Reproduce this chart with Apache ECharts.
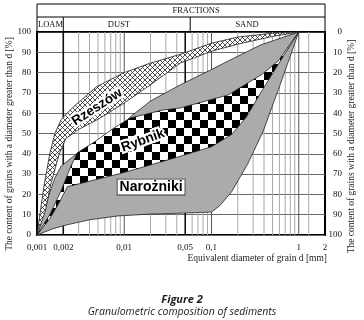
<!DOCTYPE html>
<html>
<head>
<meta charset="utf-8">
<script src="https://cdn.jsdelivr.net/npm/echarts@6/dist/echarts.min.js"></script>
<style>
  html, body { margin: 0; padding: 0; background: #fff; }
  #chart { width: 364px; height: 320px; }
</style>
</head>
<body>
<div id="chart"></div>
<script>
// equivalent diameter d [mm], content [%]
const rzeszowUpper = [[0.001,0],[0.0012,24],[0.0014,40],[0.0016,50],[0.0019,57],[0.0026,63],[0.0048,73],[0.01,80],[0.02,84.7],[0.044,89],[0.1,94.5],[0.2,97.5],[0.5,99.4],[1,100]];
const rzeszowLower = [[0.001,0],[0.00125,12],[0.00144,25],[0.0018,40],[0.00214,47.5],[0.003,52],[0.005,57],[0.01,65],[0.02,74],[0.044,84.7],[0.1,90.5],[0.2,94],[0.5,97.8],[1,100]];

const rybnikUpper = [[0.001,0],[0.0014,10],[0.0019,22],[0.0024,33],[0.0029,40.5],[0.0045,45.7],[0.0075,52.5],[0.0117,57.6],[0.028,61.6],[0.044,62.6],[0.155,69],[0.375,79],[0.58,85.7],[1,100]];
const rybnikLower = [[0.001,0],[0.0014,8],[0.0018,16],[0.00223,23.8],[0.0085,30],[0.02,34.5],[0.044,38.8],[0.1,43.5],[0.17,49.5],[0.25,58],[0.375,70.8],[0.58,84],[1,100]];

const narozUpper = [[0.001,0],[0.0013,17],[0.0016,28],[0.0019,34],[0.0029,40.3],[0.005,46],[0.008,51.5],[0.012,58.5],[0.02,66],[0.044,74],[0.1,81.5],[0.155,85.7],[0.37,93.7],[1,100]];
const narozLower = [[0.001,0],[0.0015,3],[0.0022,5],[0.004,7.5],[0.0085,9.4],[0.02,10.3],[0.041,10.7],[0.1,11.3],[0.125,14.5],[0.17,21.3],[0.26,35],[0.39,51],[0.6,73],[1,100]];

const bandLabels = [
  { text: 'Rzeszów', pos: [0.0049, 63], angle: 33 },
  { text: 'Rybnik', pos: [0.0164, 46.5], angle: 20 },
  { text: 'Narożniki', pos: [0.0203, 23.6], angle: 0, boxed: true }
];

const tickLabels = [0.001, 0.002, 0.01, 0.05, 0.1, 1, 2];
const gridThin = [0.003,0.004,0.005,0.006,0.007,0.008,0.009,0.02,0.03,0.04,0.06,0.07,0.08,0.09,0.2,0.3,0.4,0.5,0.6,0.7,0.8,0.9,1.3];
const gridMid = [0.01, 0.1, 1];
const gridBold = [0.002, 0.05];

const fractions = [['LOAM', 0.00143], ['DUST', 0.0087], ['SAND', 0.255]];
const fractionSplits = [0.002, 0.057];

const serif = "'Liberation Serif', 'DejaVu Serif', serif";
const lg = Math.log10;

function checkerPattern() {
  const c = document.createElement('canvas');
  c.width = 16; c.height = 16;
  const g = c.getContext('2d');
  g.fillStyle = '#fff'; g.fillRect(0, 0, 16, 16);
  g.fillStyle = '#000';
  g.fillRect(0, 0, 8, 8);
  g.fillRect(8, 8, 8, 8);
  return { image: c, repeat: 'repeat' };
}

function hatchPattern() {
  const c = document.createElement('canvas');
  c.width = 5; c.height = 5;
  const g = c.getContext('2d');
  g.fillStyle = '#fff'; g.fillRect(0, 0, 5, 5);
  g.strokeStyle = '#222'; g.lineWidth = 0.8;
  g.beginPath();
  g.moveTo(0, 0); g.lineTo(5, 5);
  g.moveTo(5, 0); g.lineTo(0, 5);
  g.stroke();
  return { image: c, repeat: 'repeat' };
}

function band(name, upper, lower, fill, z) {
  const ring = upper.concat(lower.slice().reverse()).map(p => [lg(p[0]), p[1]]);
  return {
    type: 'custom',
    name: name,
    z: z,
    silent: true,
    data: [[0, 50]],
    renderItem: (params, api) => ({
      type: 'polygon',
      shape: { points: ring.map(p => api.coord(p)) },
      style: { fill: fill, stroke: '#222', lineWidth: 0.8 }
    })
  };
}

// vertical grid lines of the log scale
function gridLines(values, color, width) {
  return {
    type: 'custom',
    z: 1,
    silent: true,
    data: values.map(v => [lg(v), 0]),
    renderItem: (params, api) => {
      const a = api.coord([api.value(0), 0]);
      const b = api.coord([api.value(0), 100]);
      return {
        type: 'line',
        shape: { x1: a[0], y1: a[1], x2: b[0], y2: b[1] },
        style: { stroke: color, lineWidth: width }
      };
    }
  };
}

const chart = echarts.init(document.getElementById('chart'));

chart.setOption({
  animation: false,
  title: {
    text: 'Figure 2',
    subtext: 'Granulometric composition of sediments',
    left: 'center',
    top: 289,
    itemGap: 2,
    textStyle: { fontFamily: 'Open Sans', fontStyle: 'italic', fontWeight: 'bold', fontSize: 11, color: '#222' },
    subtextStyle: { fontFamily: 'Open Sans', fontStyle: 'italic', fontSize: 10.5, color: '#222' }
  },
  grid: {
    left: 37, right: 39, top: 32, height: 203,
    show: true, borderColor: '#000', borderWidth: 2,
    outerBoundsMode: 'none'
  },
  xAxis: {
    type: 'value',
    min: lg(0.001),
    max: lg(2),
    name: 'Equivalent diameter of grain d [mm]',
    nameLocation: 'end',
    nameGap: 2,
    nameMoveOverlap: false,
    nameTextStyle: { fontFamily: serif, fontSize: 9.5, color: '#222', align: 'right', verticalAlign: 'top', padding: [18, 0, 0, 0] },
    axisLine: { show: false },
    axisTick: { show: false },
    splitLine: { show: false },
    axisLabel: {
      margin: 8, fontFamily: serif, fontSize: 9, color: '#111',
      customValues: tickLabels.map(lg),
      formatter: v => String(Number(Math.pow(10, v).toPrecision(2))).replace('.', ',')
    }
  },
  yAxis: [
    {
      type: 'value', min: 0, max: 100, interval: 10, position: 'left',
      name: 'The content of grains with a diameter greater than d [%]',
      nameLocation: 'middle', nameRotate: 90, nameGap: 23, nameMoveOverlap: false,
      nameTextStyle: { fontFamily: serif, fontSize: 9.5, color: '#222', padding: [0, 21, 0, 0] },
      axisLine: { show: false }, axisTick: { show: false },
      axisLabel: { margin: 6, fontFamily: serif, fontSize: 9, color: '#111' },
      splitLine: { lineStyle: { color: '#6a6a6a', width: 1 } }
    },
    {
      type: 'value', min: 0, max: 100, interval: 10, position: 'right', inverse: true,
      name: 'The content of grains with a diameter greater than d [%]',
      nameLocation: 'middle', nameRotate: 90, nameGap: 21, nameMoveOverlap: false,
      nameTextStyle: { fontFamily: serif, fontSize: 9.5, color: '#222', padding: [0, 26, 0, 0] },
      axisLine: { show: false }, axisTick: { show: false },
      axisLabel: { margin: 17, align: 'right', fontFamily: serif, fontSize: 9, color: '#111' },
      splitLine: { show: false }
    }
  ],
  series: [
    gridLines(gridThin, '#a8a8a8', 1),
    gridLines(gridMid, '#555', 1),
    gridLines(gridBold, '#111', 1.6),
    band('Narożniki', narozUpper, narozLower, '#ababab', 2),
    band('Rybnik', rybnikUpper, rybnikLower, checkerPattern(), 3),
    band('Rzeszów', rzeszowUpper, rzeszowLower, hatchPattern(), 4),
    {
      type: 'custom',
      z: 6,
      silent: true,
      data: bandLabels.map(b => [lg(b.pos[0]), b.pos[1]]),
      renderItem: (params, api) => {
        const b = bandLabels[params.dataIndex];
        const p = api.coord([api.value(0), api.value(1)]);
        const style = {
          text: b.text, fill: '#000', align: 'center', verticalAlign: 'middle',
          fontFamily: "'Liberation Sans', Arial, sans-serif", fontWeight: 'bold',
          fontSize: b.boxed ? 14 : 13.5
        };
        if (b.boxed) {
          Object.assign(style, { backgroundColor: '#fff', borderColor: '#333', borderWidth: 0.8, padding: [1, 2, 0, 2] });
        } else {
          Object.assign(style, { stroke: '#fff', lineWidth: 4.5 });
        }
        return { type: 'text', x: p[0], y: p[1], rotation: b.angle * Math.PI / 180, style: style };
      }
    }
  ]
});

// header with the fraction names above the plot
const px = d => chart.convertToPixel({ xAxisIndex: 0 }, lg(d));
const x0 = px(0.001), x1 = px(2);
const hTop = 4, hMid = 17, hBot = 32;
const lineStyle = { stroke: '#000', lineWidth: 1 };
const headText = (t, x, y) => ({
  type: 'text', x: x, y: y,
  style: { text: t, fontFamily: serif, fontSize: 8.5, fill: '#111', align: 'center', verticalAlign: 'middle' }
});
const header = [
  { type: 'rect', shape: { x: x0, y: hTop, width: x1 - x0, height: hBot - hTop }, style: { fill: 'none', stroke: '#000', lineWidth: 1 } },
  { type: 'line', shape: { x1: x0, y1: hMid, x2: x1, y2: hMid }, style: lineStyle },
  headText('FRACTIONS', px(0.0666), (hTop + hMid) / 2 + 0.5)
];
fractionSplits.forEach(d => {
  header.push({ type: 'line', shape: { x1: px(d), y1: hMid, x2: px(d), y2: hBot }, style: lineStyle });
});
fractions.forEach(f => header.push(headText(f[0], px(f[1]), (hMid + hBot) / 2)));
chart.setOption({ graphic: header });
</script>
</body>
</html>
